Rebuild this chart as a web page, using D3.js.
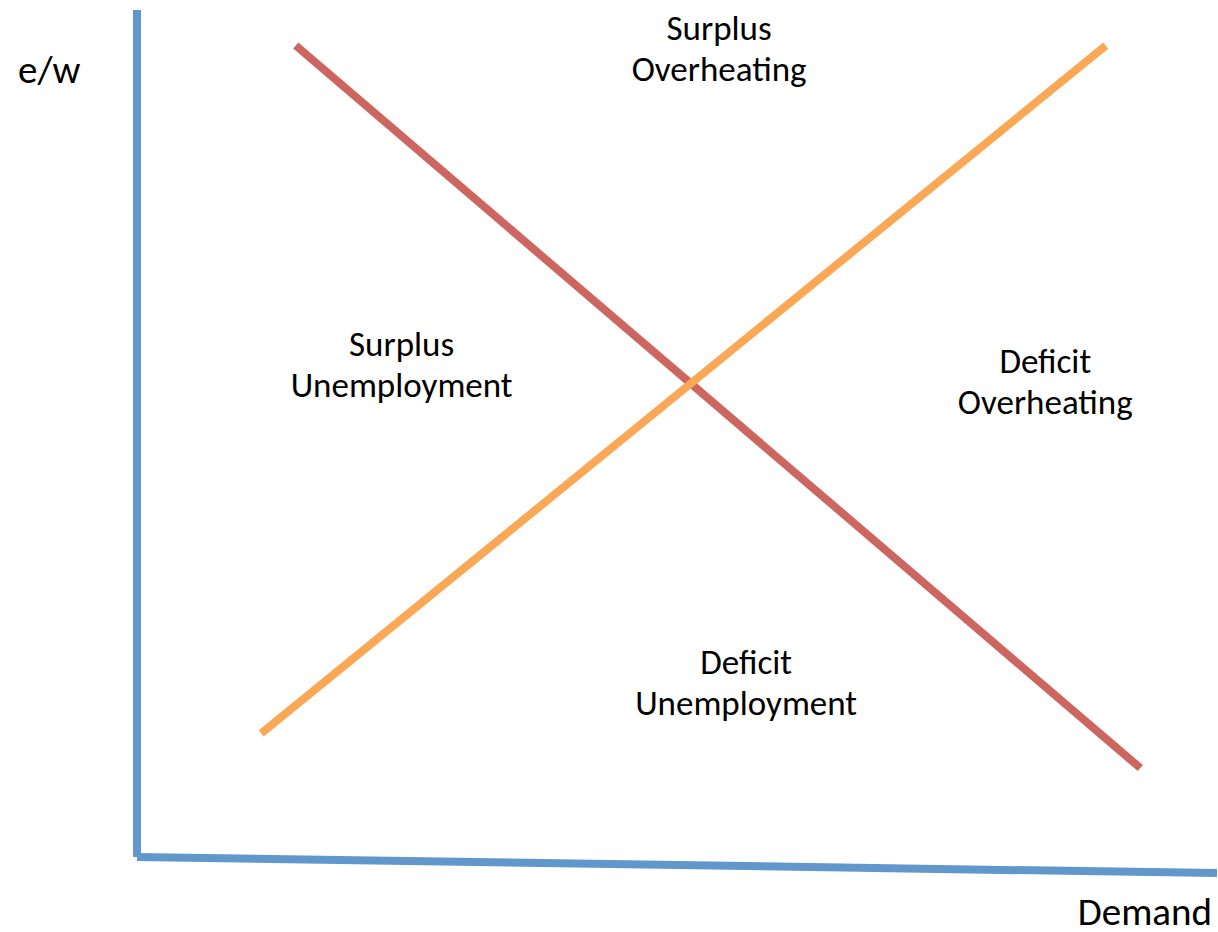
<!DOCTYPE html>
<html>
<head>
<meta charset="utf-8">
<script src="https://cdn.jsdelivr.net/npm/d3@7"></script>
<style>
  body { margin: 0; background: #fff; }
  svg { display: block; }
</style>
</head>
<body>
<div id="chart"></div>
<script>
// axes drawn as lines (x, y in chart units)
var yAxisLine = [[0, 0], [0, 100]];
var xAxisLine = [[0, 0], [100, -1.9]];

// the two curves
var redLine = [[14.7, 95.8], [92.9, 10.5]];
var orangeLine = [[11.5, 14.6], [89.7, 95.8]];

// region labels: [x, y, line1, line2]
var regionLabels = [
    [53.9, 96.5, 'Surplus', 'Overheating'],
    [24.5, 59.1, 'Surplus', 'Unemployment'],
    [84.1, 57.1, 'Deficit', 'Overheating'],
    [56.4, 21.6, 'Deficit', 'Unemployment']
];
var yTitle = 'e/w';
var xTitle = 'Demand';

//Width and height
var w = 1218;
var h = 932;

var x = d3.scaleLinear().domain([0, 100]).range([137, 1217]);
var y = d3.scaleLinear().domain([0, 100]).range([857, 10]);

var line = d3.line()
    .x(function(d) { return x(d[0]); })
    .y(function(d) { return y(d[1]); });

var svg = d3.select('#chart')
    .append('svg')
    .attr('width', w)
    .attr('height', h);

var font = 'Carlito, Calibri, "Open Sans", sans-serif';

svg.append('path').attr('d', line(yAxisLine))
    .attr('stroke', '#6197CA').attr('stroke-width', 8).attr('fill', 'none');
svg.append('path').attr('d', line(xAxisLine))
    .attr('stroke', '#6197CA').attr('stroke-width', 8).attr('fill', 'none');

svg.append('path').attr('d', line(redLine))
    .attr('stroke', '#CD6660').attr('stroke-width', 8).attr('fill', 'none');
svg.append('path').attr('d', line(orangeLine))
    .attr('stroke', '#FBA856').attr('stroke-width', 8).attr('fill', 'none');

var labels = svg.selectAll('text.region')
    .data(regionLabels)
    .enter()
    .append('text')
    .attr('class', 'region')
    .attr('x', function(d) { return x(d[0]); })
    .attr('y', function(d) { return y(d[1]); })
    .attr('text-anchor', 'middle')
    .style('font-family', font)
    .style('font-size', '35px')
    .attr('fill', '#000');

labels.append('tspan')
    .attr('x', function(d) { return x(d[0]); })
    .text(function(d) { return d[2]; });
labels.append('tspan')
    .attr('x', function(d) { return x(d[0]); })
    .attr('dy', 41)
    .text(function(d) { return d[3]; });

svg.append('text')
    .attr('x', 18).attr('y', 83)
    .style('font-family', font).style('font-size', '39px')
    .text(yTitle);

svg.append('text')
    .attr('x', 1212).attr('y', 925)
    .attr('text-anchor', 'end')
    .style('font-family', font).style('font-size', '39px')
    .text(xTitle);
</script>
</body>
</html>
